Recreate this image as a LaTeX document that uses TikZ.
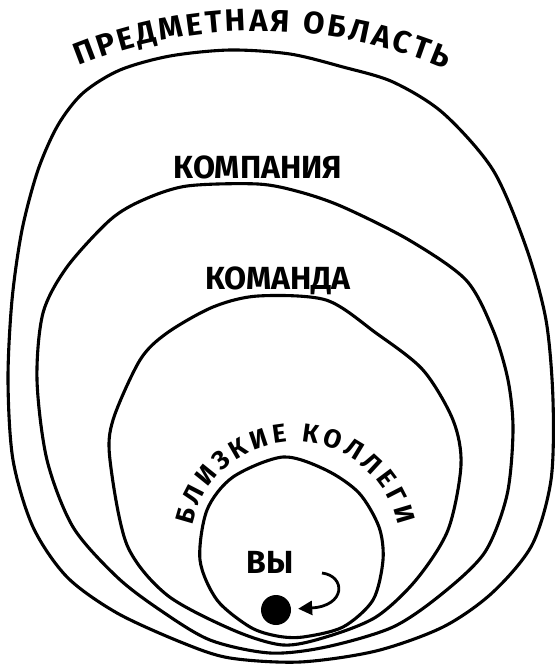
\documentclass[tikz,border=0pt]{standalone}
\usepackage{fontspec}
\setmainfont{Fira Sans}
\usetikzlibrary{arrows.meta,decorations.text}
\tikzset{
    ring/.style={line width=3.1pt, line join=round},
    ringlabel/.style={font=\bfseries\fontsize{32}{32}\selectfont, inner sep=0pt},
    arclabel/.style 2 args={decorate, decoration={text along path, text align=fit to path,
        text={|\bfseries\fontsize{#1}{#1}\selectfont|#2}}},
    youarrow/.style={-{Triangle[length=14pt,width=14pt]}, line width=2.8pt, shorten >=7pt}
}

\begin{document}
\begin{tikzpicture}[x=1pt, y=1pt]
\useasboundingbox (0,0) rectangle (556,-664);
% rings, outer to inner
\draw[ring] plot[smooth cycle] coordinates {(230,-50) (290,-54) (343,-67) (393,-82) (443,-113)
    (493,-170) (526,-247) (546,-320) (553,-400) (551,-480) (532,-545) (492,-593) (443,-627)
    (376,-651) (300,-662) (230,-658) (183,-643) (117,-613) (67,-577) (33,-527) (13,-460)
    (8,-380) (12,-300) (22,-230) (38,-170) (58,-125) (83,-93) (120,-70) (170,-56)};
\draw[ring] plot[smooth cycle] coordinates {(258,-184) (300,-192) (343,-207) (409,-240)
    (466,-280) (493,-330) (508,-380) (513,-430) (507,-495) (485,-552) (443,-593) (393,-627)
    (326,-647) (270,-653) (210,-640) (160,-610) (117,-577) (73,-527) (47,-460) (37,-380)
    (43,-313) (67,-267) (110,-220) (143,-200) (187,-186)};
\draw[ring] plot[smooth cycle] coordinates {(258,-296) (326,-300) (376,-333) (423,-370)
    (453,-420) (461,-465) (448,-530) (416,-580) (376,-617) (326,-637) (283,-645) (233,-630)
    (167,-595) (127,-545) (110,-460) (113,-420) (140,-360) (167,-333) (213,-307)};
\draw[ring] plot[smooth cycle] coordinates {(283,-457) (326,-470) (359,-493) (379,-527)
    (383,-560) (373,-600) (343,-627) (303,-637) (277,-636) (250,-627) (217,-600) (200,-560)
    (207,-510) (233,-477)};
% labels
\path[arclabel={31}{ПРЕДМЕТНАЯ ОБЛАСТЬ}]
    (258,-511) ++(112:480) arc[start angle=112, end angle=67, radius=480];
\node[ringlabel] (company) at (258,-167) {КОМПАНИЯ};
\node[ringlabel] (team) at (278,-281) {КОМАНДА};
\path[arclabel={26}{БЛИЗКИЕ КОЛЛЕГИ}]
    (295,-547) ++(168:105) arc[start angle=168, end angle=12, radius=105];
\node[ringlabel] (vy) at (270,-562) {ВЫ};
% you
\node[circle, fill, minimum size=30pt, inner sep=0pt] (you) at (276,-610) {};
\coordinate (loopstart) at (322,-573);
\draw[youarrow] (loopstart) .. controls (346,-576) and (346,-606) .. (you);
\end{tikzpicture}
\end{document}
